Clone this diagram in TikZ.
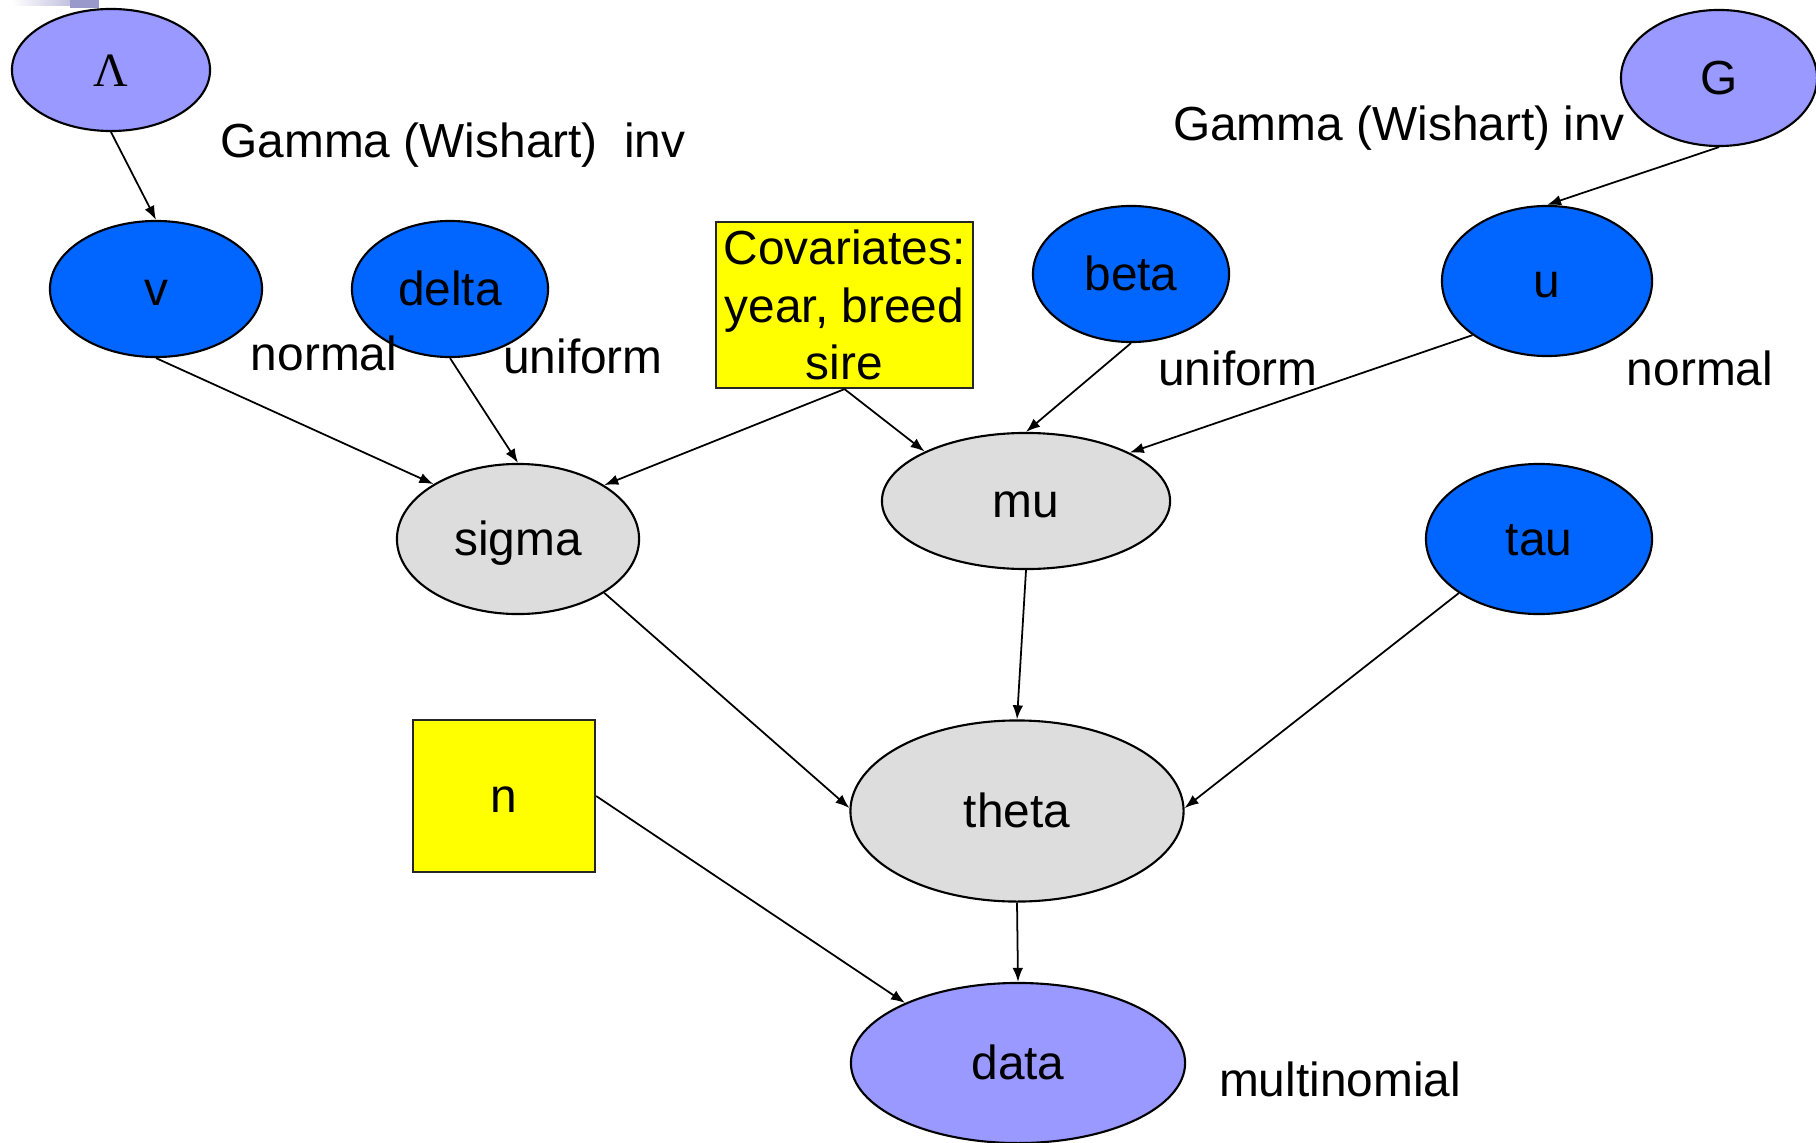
\documentclass[tikz,border=0pt]{standalone}
\usepackage{fontspec}
\setmainfont{Liberation Sans}
\newfontfamily\greekfont{Liberation Serif}
\usepackage{xcolor}
\definecolor{hypfill}{RGB}{153,153,255}
\definecolor{prmfill}{RGB}{0,102,255}
\definecolor{latfill}{RGB}{221,221,221}
\definecolor{covfill}{RGB}{255,255,0}
\definecolor{barlav}{RGB}{153,153,204}
\usetikzlibrary{shapes.geometric}
\usetikzlibrary{arrows.meta}
\tikzset{every node/.style={font=\fontsize{13.6}{16.3}\selectfont},
 onebase/.style={text height=10pt,text depth=0.4pt},
 var/.style={ellipse,draw=black,line width=0.6pt,inner sep=0pt,onebase},
 hyp/.style={var,fill=hypfill},
 prm/.style={var,fill=prmfill},
 lat/.style={var,fill=latfill},
 fixed/.style={rectangle,draw=black!85,line width=0.6pt,fill=covfill,align=center,inner sep=1pt},
 dist/.style={inner sep=0pt},
 link/.style={-{Latex[length=4pt,width=3pt]},line width=0.5pt},
 }

\begin{document}
\begin{tikzpicture}[x=0.01cm,y=-0.01cm]
        \useasboundingbox (0,0) rectangle (1816,1143);
        \shade[left color=white,right color=barlav!60] (12,0) rectangle (70,6);
        \fill[barlav] (70,0) rectangle (99,8);

        \node[hyp,minimum width=1.98cm,minimum height=1.22cm] (Lambda) at (111,70) {\greekfont Λ};
        \node[hyp,minimum width=1.96cm,minimum height=1.36cm] (G) at (1719,78) {G};
        \node[prm,minimum width=2.12cm,minimum height=1.36cm] (v) at (156,289) {v};
        \node[prm,minimum width=1.96cm,minimum height=1.36cm] (delta) at (450,289) {delta};
        \node[fixed,minimum width=2.57cm,minimum height=1.66cm] (cov) at (844.5,305) {Covariates:\\year, breed\\sire};
        \node[prm,minimum width=1.96cm,minimum height=1.36cm] (beta) at (1131,274) {beta};
        \node[prm,minimum width=2.1cm,minimum height=1.5cm] (u) at (1547,281) {u};
        \node[lat,minimum width=2.42cm,minimum height=1.5cm] (sigma) at (518,539) {sigma};
        \node[lat,minimum width=2.88cm,minimum height=1.36cm] (mu) at (1026,501) {mu};
        \node[prm,minimum width=2.26cm,minimum height=1.5cm] (tau) at (1539,539) {tau};
        \node[lat,minimum width=3.33cm,minimum height=1.81cm] (theta) at (1017,811) {theta};
        \node[fixed,onebase,minimum width=1.82cm,minimum height=1.52cm] (n) at (504,796) {n};
        \node[hyp,minimum width=3.34cm,minimum height=1.6cm] (data) at (1018,1063) {data};

        \node[dist] (gwleft) at (453,145) {Gamma (Wishart)\ \ inv};
        \node[dist] (gwright) at (1399,128) {Gamma (Wishart) inv};
        \node[dist] (vdist) at (324,353) {normal};
        \node[dist] (deltadist) at (583,356) {uniform};
        \node[dist] (betadist) at (1238,368) {uniform};
        \node[dist] (udist) at (1700,368) {normal};
        \node[dist] (datadist) at (1340,1079) {multinomial};

        \draw[link] (Lambda.south) -- (v.north);
        \draw[link] (G.south) -- (u.north);
        \draw[link] (v.south) -- (sigma.147);
        \draw[link] (delta.south) -- (sigma.north);
        \draw[link] (cov.south) -- (sigma.32);
        \draw[link] (cov.south) -- (mu.154);
        \draw[link] (beta.south) -- (mu.north);
        \draw[link] (u.216) -- (mu.25);
        \draw[link] (sigma.328) -- (theta.179);
        \draw[link] (mu.south) -- (theta.north);
        \draw[link] (tau.214) -- (theta.1);
        \draw[link] (n.east) -- (data.152);
        \draw[link] (theta.south) -- (data.north);
    \end{tikzpicture}
\end{document}
